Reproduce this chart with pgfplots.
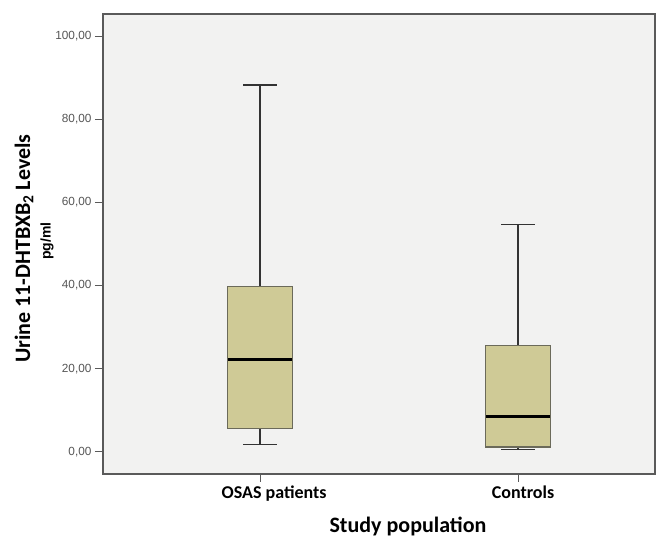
\documentclass[border=0pt]{standalone}
\usepackage{fontspec}
\setmainfont{Liberation Sans}
\newfontfamily\carlito{Carlito}
\usepackage{pgfplots}
\pgfplotsset{compat=1.18}
\definecolor{bgc}{HTML}{F2F2F1}
\definecolor{boxc}{HTML}{CFCA96}
\definecolor{boxedge}{HTML}{6B6A5A}
\definecolor{framec}{HTML}{5A5A5A}
\definecolor{tickc}{HTML}{555555}
\begin{document}
\begin{tikzpicture}
\path[use as bounding box] (-103pt,-63pt) rectangle (567pt,474pt);
\begin{axis}[
  at={(0pt,0pt)}, anchor=south west,
  scale only axis, width=552pt, height=460pt,
  clip=false,
  xmin=0.391, xmax=2.531, ymin=-5.3, ymax=105.3,
  axis background/.style={fill=bgc},
  axis line style={framec, line width=1.4pt},
  xtick={1,2},
  xticklabels={{\hspace*{28pt}OSAS patients},{\hspace*{10pt}Controls}},
  ytick={0,20,40,60,80,100},
  tick align=outside, major tick length=8pt,
  tick style={framec, line width=1pt},
  xtick pos=bottom, ytick pos=left,
  yticklabel style={font=\fontsize{11.8}{13}\selectfont, text=tickc,
    /pgf/number format/fixed, /pgf/number format/fixed zerofill,
    /pgf/number format/precision=2, /pgf/number format/use comma,
    /pgf/number format/assume math mode=true},
  xticklabel style={font=\carlito\bfseries\fontsize{18}{20}\selectfont, text=black},
  xlabel={Study population},
  xlabel style={font=\carlito\bfseries\fontsize{22}{26}\selectfont,
    at={(axis description cs:0.5525,-0.115)}, anchor=center},
  ylabel={Urine 11-DHTBXB\textsubscript{2} Levels},
  ylabel style={font=\carlito\bfseries\fontsize{22}{26}\selectfont,
    at={(axis description cs:-0.1431,0.49)}, anchor=center},
]
% OSAS patients: whiskers, box, median
\addplot[draw=black!80, line width=1.3pt] coordinates {(1,39.8) (1,88.2)};
\addplot[draw=black!80, line width=1.3pt] coordinates {(0.935,88.2) (1.065,88.2)};
\addplot[draw=black!80, line width=1.3pt] coordinates {(1,5.7) (1,1.85)};
\addplot[draw=black!80, line width=1.3pt] coordinates {(0.935,1.85) (1.065,1.85)};
\addplot[fill=boxc, draw=boxedge, line width=1.1pt] coordinates {(0.875,5.7) (1.125,5.7) (1.125,39.8) (0.875,39.8)} -- cycle;
\addplot[draw=black, line width=2.6pt] coordinates {(0.877,22.2) (1.123,22.2)};
% Controls
\addplot[draw=black!80, line width=1.3pt] coordinates {(2,25.5) (2,54.7)};
\addplot[draw=black!80, line width=1.3pt] coordinates {(1.935,54.7) (2.065,54.7)};
\addplot[draw=black!80, line width=1.3pt] coordinates {(2,1.2) (2,0.65)};
\addplot[draw=black!80, line width=1.3pt] coordinates {(1.935,0.65) (2.065,0.65)};
\addplot[fill=boxc, draw=boxedge, line width=1.1pt] coordinates {(1.875,1.2) (2.125,1.2) (2.125,25.5) (1.875,25.5)} -- cycle;
\addplot[draw=black, line width=2.6pt] coordinates {(1.877,8.5) (2.123,8.5)};
\node[rotate=90, font={\bfseries\fontsize{14}{16}\selectfont}, anchor=center, inner sep=0pt]
  at (axis description cs:-0.1014,0.5065) {pg/ml};
\end{axis}
\end{tikzpicture}
\end{document}
